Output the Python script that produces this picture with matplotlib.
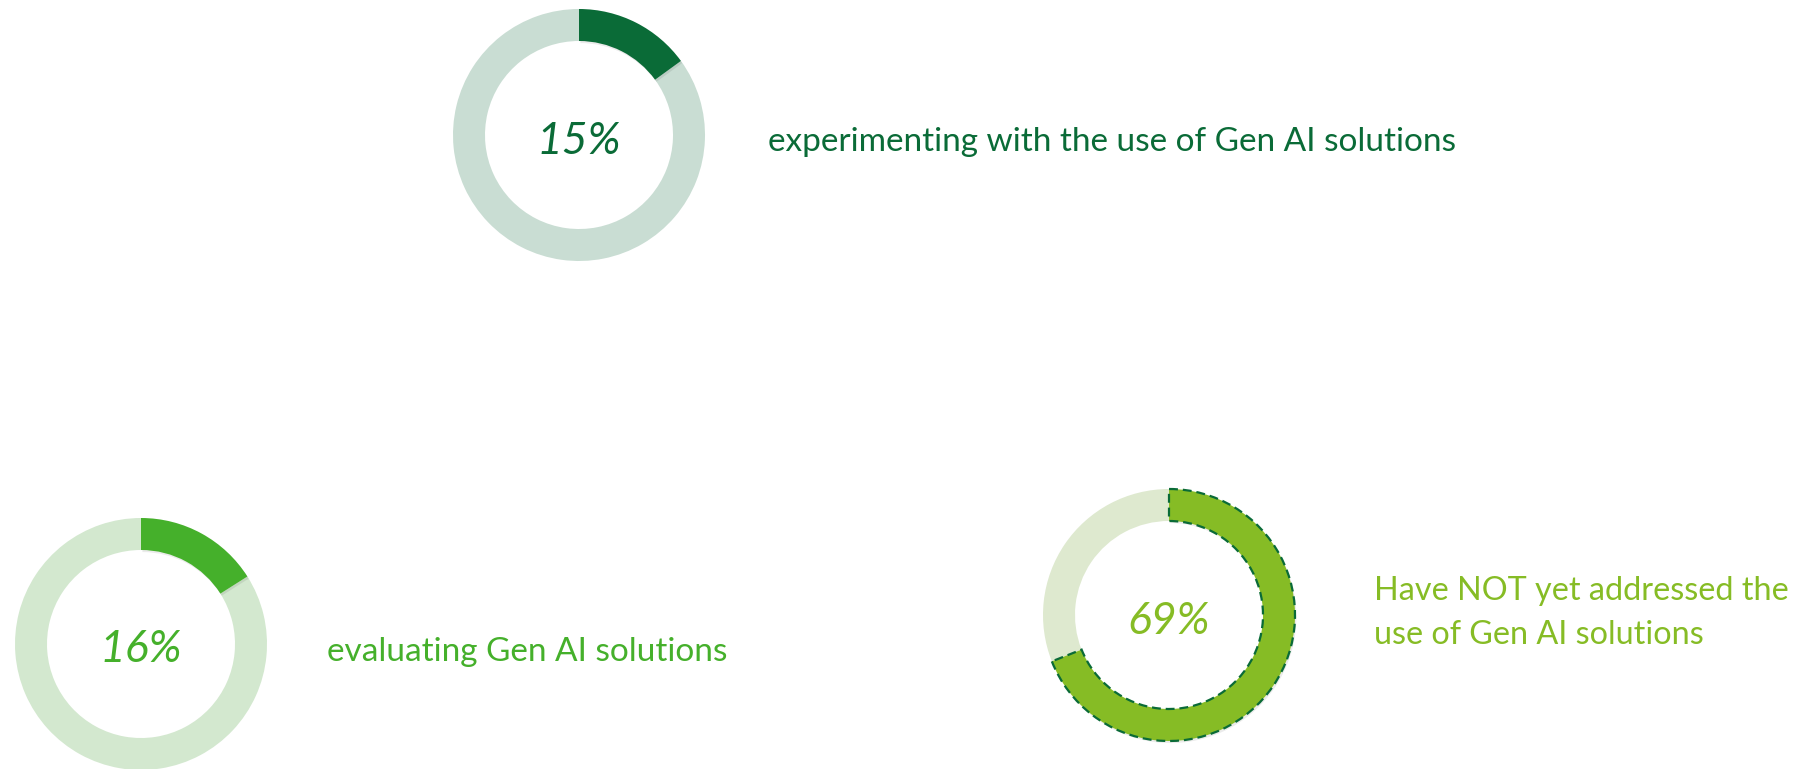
import matplotlib
matplotlib.use("Agg")
import matplotlib.pyplot as plt
import matplotlib.patheffects as pe

W, H = 1799, 769

percent_values = [15, 16, 69]
percent_labels = ["15%", "16%", "69%"]
descriptions = [
    "experimenting with the use of Gen AI solutions",
    "evaluating Gen AI solutions",
    "Have NOT yet addressed the\nuse of Gen AI solutions",
]
main_colors = ["#0A6B37", "#45B02B", "#86BC25"]
track_colors = ["#C9DDD3", "#D3E8CF", "#DEE9CF"]

# layout (pixel positions, y measured from top)
centers = [(579, 135), (141, 644), (1169, 615)]
label_pos = [(768, 142), (327, 652), (1374, 613)]
label_sizes = [24, 24, 23.3]
radius = 126
ring_width = 32

fig = plt.figure(figsize=(W / 100, H / 100), dpi=100)
ax = fig.add_axes([0, 0, 1, 1])
ax.set_xlim(0, W)
ax.set_ylim(0, H)
ax.set_aspect("equal")
ax.axis("off")

shadow = [pe.SimplePatchShadow(offset=(1.0, -1.5), shadow_rgbFace="#000000", alpha=0.08), pe.Normal()]

for i, v in enumerate(percent_values):
    cx, cy = centers[i]
    cy = H - cy
    dashed = i == 2
    wedges, _ = ax.pie(
        [v, 100 - v],
        colors=[main_colors[i], track_colors[i]],
        startangle=90,
        counterclock=False,
        center=(cx, cy),
        radius=radius,
        wedgeprops=dict(width=ring_width, linewidth=0),
        frame=True,
    )
    wedges[0].set_zorder(3)
    wedges[1].set_zorder(2)
    wedges[0].set_path_effects(shadow)
    if dashed:
        wedges[0].set_edgecolor("#0A6B37")
        wedges[0].set_linewidth(1.6)
        wedges[0].set_linestyle((0, (4, 2.2)))
    ax.text(cx, cy - 6, percent_labels[i], ha="center", va="center",
            fontsize=32, style="italic", color=main_colors[i], family="Lato", zorder=5)
    lx, ly = label_pos[i]
    ax.text(lx, H - ly, descriptions[i], ha="left", va="center", fontsize=label_sizes[i],
            color=main_colors[i], family="Lato", linespacing=1.58, zorder=5)

ax.set_xlim(0, W)
ax.set_ylim(0, H)
ax.axis("off")
fig.savefig("out.png", dpi=100, facecolor="white")
